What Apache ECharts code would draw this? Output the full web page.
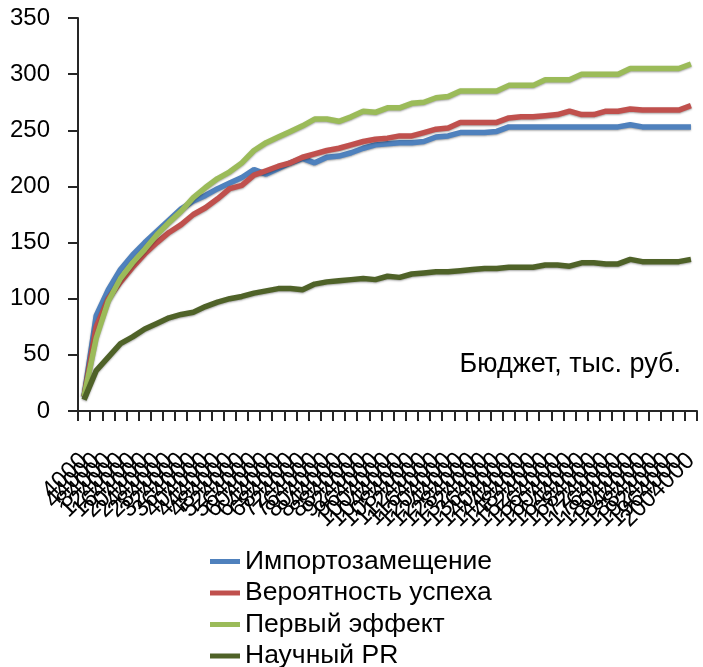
<!DOCTYPE html>
<html>
<head>
<meta charset="utf-8">
<script src="https://cdn.jsdelivr.net/npm/echarts@6/dist/echarts.min.js"></script>
<style>
  html, body { margin: 0; padding: 0; background: #fff; }
  #chart { width: 703px; height: 667px; }
</style>
</head>
<body>
<div id="chart"></div>
<script>
// Budget categories (x axis, thousand rubles)
var categories = [
  "4000","44000","84000","124000","164000","204000","244000","284000","324000","364000",
  "404000","444000","484000","524000","564000","604000","644000","684000","724000","764000",
  "804000","844000","884000","924000","964000","1004000","1044000","1084000","1124000","1164000",
  "1204000","1244000","1284000","1324000","1364000","1404000","1444000","1484000","1524000","1564000",
  "1604000","1644000","1684000","1724000","1764000","1804000","1844000","1884000","1924000","1964000",
  "2004000"
];

var seriesNames = ["Импортозамещение", "Вероятность успеха", "Первый эффект", "Научный PR"];

var importSubst = [
  13, 85, 108, 126, 139, 150, 160, 170, 180, 187,
  192, 198, 203, 208, 215, 211, 216, 221, 225, 221,
  226, 227, 230, 234, 237, 238, 239, 239, 240, 244,
  245, 248, 248, 248, 249, 253, 253, 253, 253, 253,
  253, 253, 253, 253, 253, 255, 253, 253, 253, 253,
  253
];

var successProb = [
  13, 75, 100, 115, 128, 140, 150, 159, 166, 175,
  181, 189, 198, 201, 210, 214, 218, 221, 226, 229,
  232, 234, 237, 240, 242, 243, 245, 245, 248, 251,
  252, 257, 257, 257, 257, 261, 262, 262, 263, 264,
  267, 264, 264, 267, 267, 269, 268, 268, 268, 268,
  272
];

var firstEffect = [
  13, 65, 98, 118, 132, 144, 157, 168, 178, 190,
  199, 207, 213, 221, 232, 239, 244, 249, 254, 260,
  260, 258, 262, 267, 266, 270, 270, 274, 275, 279,
  280, 285, 285, 285, 285, 290, 290, 290, 295, 295,
  295, 300, 300, 300, 300, 305, 305, 305, 305, 305,
  309
];

var scientificPR = [
  10, 36, 48, 60, 66, 73, 78, 83, 86, 88,
  93, 97, 100, 102, 105, 107, 109, 109, 108, 113,
  115, 116, 117, 118, 117, 120, 119, 122, 123, 124,
  124, 125, 126, 127, 127, 128, 128, 128, 130, 130,
  129, 132, 132, 131, 131, 135, 133, 133, 133, 133,
  135
];

var yTicks = { min: 0, max: 350, interval: 50 };
var axisTitle = "Бюджет, тыс. руб.";

var colors = ["#4F81BD", "#C0504D", "#9BBB59", "#4F6228"];
var font = "'Liberation Sans', Arial, sans-serif";

var chart = echarts.init(document.getElementById('chart'), null, { renderer: 'canvas' });

function mkSeries(name, data, color) {
  return {
    name: name,
    type: 'line',
    data: data,
    symbol: 'none',
    smooth: false,
    lineStyle: {
      color: color,
      width: 5.5,
      shadowColor: 'rgba(0,0,0,0.35)',
      shadowBlur: 2,
      shadowOffsetY: 1
    },
    itemStyle: { color: color },
    emphasis: { disabled: true },
    animation: false
  };
}

chart.setOption({
  animation: false,
  backgroundColor: '#ffffff',
  grid: { left: 78, right: 6, top: 18, bottom: 256, containLabel: false },
  xAxis: {
    type: 'category',
    data: categories,
    boundaryGap: true,
    axisLine: { lineStyle: { color: '#262626', width: 2 } },
    axisTick: { show: true, interval: 0, length: 10, lineStyle: { color: '#262626', width: 2 } },
    axisLabel: {
      interval: 0,
      rotate: 45,
      margin: 46,
      fontSize: 24,
      color: '#000',
      fontFamily: font
    },
    splitLine: { show: false }
  },
  yAxis: {
    type: 'value',
    min: yTicks.min,
    max: yTicks.max,
    interval: yTicks.interval,
    axisLine: { show: true, lineStyle: { color: '#262626', width: 2 } },
    axisTick: { show: true, length: 10, lineStyle: { color: '#262626', width: 2 } },
    axisLabel: { fontSize: 24, color: '#000', fontFamily: font, margin: 28 },
    splitLine: { show: false }
  },
  legend: {
    orient: 'vertical',
    left: 205,
    top: 543,
    height: 140,
    icon: 'rect',
    itemWidth: 30,
    itemHeight: 5,
    itemGap: 4.5,
    textStyle: { fontSize: 26.5, color: '#000', fontFamily: font, lineHeight: 27 },
    data: seriesNames
  },
  graphic: [{
    type: 'text',
    right: 22,
    top: 351,
    style: { text: axisTitle, font: '27px ' + font, fill: '#000' }
  }],
  series: [
    mkSeries(seriesNames[0], importSubst, colors[0]),
    mkSeries(seriesNames[1], successProb, colors[1]),
    mkSeries(seriesNames[2], firstEffect, colors[2]),
    mkSeries(seriesNames[3], scientificPR, colors[3])
  ]
});
</script>
</body>
</html>
